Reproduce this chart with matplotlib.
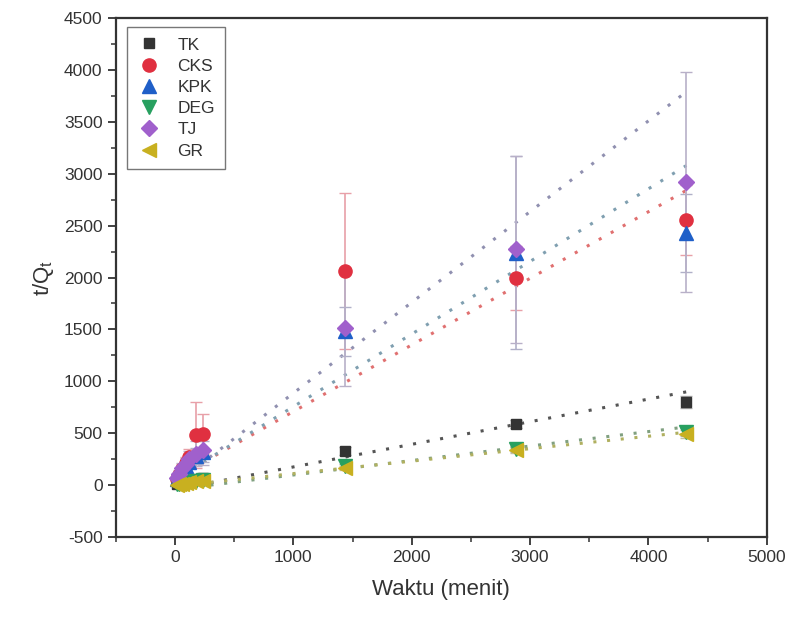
import numpy as np
import matplotlib
matplotlib.use("Agg")
import matplotlib.pyplot as plt
from matplotlib.ticker import MultipleLocator

plt.rcParams["font.family"] = ["Liberation Sans", "DejaVu Sans"]
plt.rcParams["axes.unicode_minus"] = False

# ----------------------------------------------------------
# DATA
# ----------------------------------------------------------
waktu = [15, 30, 60, 90, 120, 180, 240, 1440, 2880, 4320]

tk = [10, 18, 28, 38, 48, 58, 68, 330, 590, 800]
cks = [60, 95, 150, 210, 270, 480, 490, 2060, 1995, 2555]
kpk = [55, 90, 140, 185, 225, 280, 320, 1480, 2240, 2430]
deg = [5, 10, 18, 25, 32, 42, 50, 180, 350, 510]
tj = [70, 105, 160, 205, 250, 300, 340, 1515, 2270, 2925]
gr = [3, 8, 14, 20, 26, 34, 42, 165, 335, 490]

tk_err = [5, 8, 10, 12, 12, 15, 15, 40, 40, 60]
cks_err = [30, 40, 50, 60, 80, 320, 190, 750, 310, 340]
kpk_err = [20, 30, 40, 50, 60, 80, 100, 240, 930, 375]
deg_err = [3, 5, 5, 6, 8, 10, 10, 20, 30, 40]
tj_err = [30, 40, 50, 60, 80, 120, 150, 560, 900, 1060]
gr_err = [3, 5, 5, 6, 8, 10, 10, 20, 30, 40]

# linear fit (slope, intercept) drawn as dotted lines
fit_slope = [0.218, 0.642, 0.700, 0.1395, 0.875, 0.120]
fit_icpt = [-44, 66, 55, -43, 10, -10]
fit_start = [300, 240, 240, 300, 200, 300]

labels = ["TK", "CKS", "KPK", "DEG", "TJ", "GR"]
series = [tk, cks, kpk, deg, tj, gr]
errors = [tk_err, cks_err, kpk_err, deg_err, tj_err, gr_err]

# ----------------------------------------------------------
# STYLE
# ----------------------------------------------------------
markers = ["s", "o", "^", "v", "D", "<"]
msizes = [7.5, 9.5, 9.5, 9.5, 8.5, 9.5]
colors = ["#333333", "#e03040", "#1f5fc8", "#28a060", "#a060cc", "#c8b020"]
line_colors = ["#555555", "#e07070", "#7f9fb0", "#80a080", "#9090b0", "#b0b060"]
err_colors = ["#aaaaaa", "#e8a0a8", "#b0b0c8", "#b0b0b0", "#b8b0c8", "#c0c0a0"]

fig, ax = plt.subplots(figsize=(7.93, 6.25), dpi=100)
fig.subplots_adjust(left=0.146, right=0.967, top=0.971, bottom=0.141)

x = np.array(waktu)
for i, lab in enumerate(labels):
    xf = np.linspace(fit_start[i], 4320, 50)
    ax.plot(xf, fit_slope[i] * xf + fit_icpt[i], linestyle=(0, (1, 3.5)),
            linewidth=2.2, color=line_colors[i], zorder=2)
    ax.errorbar(x, series[i], yerr=errors[i], fmt="none",
                ecolor=err_colors[i], elinewidth=1.2, capsize=4, zorder=3)

for i, lab in enumerate(labels):
    ax.plot(x, series[i], linestyle="none", marker=markers[i], markersize=msizes[i],
            color=colors[i], markeredgecolor=colors[i], label=lab, zorder=5)

ax.set_xlim(-500, 5000)
ax.set_ylim(-500, 4500)
ax.xaxis.set_major_locator(MultipleLocator(1000))
ax.xaxis.set_minor_locator(MultipleLocator(500))
ax.yaxis.set_major_locator(MultipleLocator(500))
ax.yaxis.set_minor_locator(MultipleLocator(250))
ax.tick_params(which="major", direction="out", length=6, width=1.3,
               labelsize=12.5, colors="#333333", labelcolor="#333333")
ax.tick_params(which="minor", direction="out", length=3.5, width=1.1, colors="#333333")

for s in ax.spines.values():
    s.set_linewidth(1.6)
    s.set_color("#333333")

ax.set_xlabel("Waktu (menit)", fontsize=16, color="#333333", labelpad=10)
ax.set_ylabel(r"t/Q$_\mathregular{t}$", fontsize=16, color="#333333", labelpad=6)

leg = ax.legend(loc="upper left", bbox_to_anchor=(0.017, 0.983), borderaxespad=0,
                fontsize=12.5, frameon=True, fancybox=False, edgecolor="#555555",
                handletextpad=0.9, borderpad=0.6, labelspacing=0.35,
                handlelength=1.4)
leg.get_frame().set_linewidth(1.0)
for t in leg.get_texts():
    t.set_color("#333333")

plt.savefig("out.png", dpi=100)
